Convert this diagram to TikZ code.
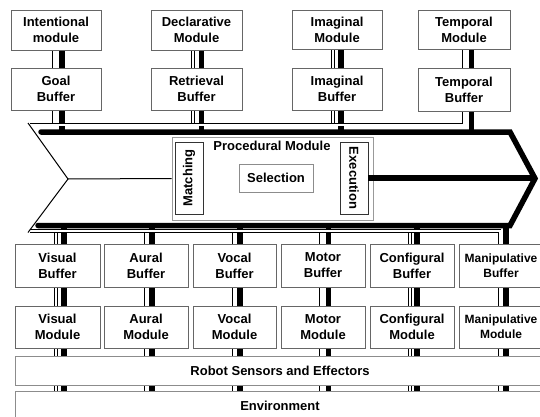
\documentclass[tikz,border=0pt]{standalone}
\usepackage{fontspec}
\setmainfont{Liberation Sans}
\usetikzlibrary{backgrounds}
\begin{document}
\begin{tikzpicture}[x=1pt,y=-1pt,
  box/.style={draw=black!60, line width=0.9pt, fill=white, align=center, inner sep=0pt,
    font=\bfseries\fontsize{13}{16}\selectfont},
  small/.style={font=\bfseries\fontsize{12}{15}\selectfont},
  hollow/.style={draw=black, line width=0.85pt, double=white, double distance=2pt},
  heavy/.style={draw=black, line width=5.5pt},
  edge/.style={draw=black, line width=1pt},
]
\useasboundingbox (0,0) rectangle (540,417);
\clip (0,0) rectangle (540,417);

% upper modules and their buffers
\node[box, minimum width=90pt, minimum height=40pt] (intm) at (56,30) {Intentional\\module};
\node[box, minimum width=91pt, minimum height=40pt] (decm) at (196.5,30) {Declarative\\Module};
\node[box, minimum width=90pt, minimum height=39pt] (imgm) at (337,29.5) {Imaginal\\Module};
\node[box, minimum width=92pt, minimum height=39pt] (tmpm) at (464,29.5) {Temporal\\Module};
\node[box, minimum width=90pt, minimum height=42pt] (goalb) at (56,89) {Goal\\Buffer};
\node[box, minimum width=91pt, minimum height=42pt] (retb) at (196.5,89) {Retrieval\\Buffer};
\node[box, minimum width=90pt, minimum height=42pt] (imgb) at (337,89) {Imaginal\\Buffer};
\node[box, minimum width=92pt, minimum height=43pt] (tmpb) at (464,89.5) {Temporal\\Buffer};

% lower buffers and modules
\node[box, minimum width=85pt, minimum height=43pt] (visb) at (57.5,265.5) {Visual\\Buffer};
\node[box, minimum width=84pt, minimum height=43pt] (aurb) at (146,265.5) {Aural\\Buffer};
\node[box, minimum width=83pt, minimum height=43pt] (vocb) at (234.5,265.5) {Vocal\\Buffer};
\node[box, minimum width=84pt, minimum height=43pt] (motb) at (323,265.5) {Motor\\Buffer};
\node[box, minimum width=84pt, minimum height=43pt] (cfgb) at (412,265.5) {Configural\\Buffer};
\node[box, small, minimum width=84pt, minimum height=43pt] (manb) at (501,265.5) {Manipulative\\Buffer};
\node[box, minimum width=85pt, minimum height=42pt] (vism) at (57.5,327) {Visual\\Module};
\node[box, minimum width=84pt, minimum height=42pt] (aurm) at (146,327) {Aural\\Module};
\node[box, minimum width=83pt, minimum height=42pt] (vocm) at (234.5,327) {Vocal\\Module};
\node[box, minimum width=84pt, minimum height=42pt] (motm) at (323,327) {Motor\\Module};
\node[box, minimum width=84pt, minimum height=42pt] (cfgm) at (412,327) {Configural\\Module};
\node[box, small, minimum width=84pt, minimum height=42pt] (manm) at (501,327) {Manipulative\\Module};

\node[box, draw=black!45, minimum width=530pt, minimum height=29pt] (robot) at (280,370.5) {Robot Sensors and Effectors};
\node[box, draw=black!45, minimum width=530pt, minimum height=30pt] (env) at (280,406) {Environment};

% procedural module
\node[box, draw=black!40, minimum width=201pt, minimum height=83pt] (proc) at (272.5,178.5) {};
\node[font=\bfseries\fontsize{13}{16}\selectfont, inner sep=0pt] (proct) at (272,146) {Procedural Module};
\node[box, draw=black!80, rotate=90, minimum width=72pt, minimum height=28pt] (match) at (189,178) {Matching};
\node[box, draw=black!80, rotate=-90, minimum width=72pt, minimum height=28pt] (exec) at (354,178) {Execution};
\node[box, draw=black!45, minimum width=74pt, minimum height=28pt] (sel) at (276,178) {Selection};

\coordinate (notch) at (68,179);
\coordinate (tip) at (535,178.5);
\draw[heavy] (exec.north) -- (exec.north -| tip);

\begin{pgfonlayer}{background}
  % upper connectors
  \foreach \m/\b/\t/\k in {intm/goalb/53.5/62, decm/retb/193/201.5, imgm/imgb/333/341, tmpm/tmpb/463.5/471.5} {
    \draw[hollow] (\m.south -| \t,0) -- (\b.north -| \t,0);
    \draw[heavy] (\m.south -| \k,0) -- (\b.north -| \k,0);
    \draw[heavy] (\b.south -| \k,0) -- (\k,132);
  }
  \foreach \b/\t in {goalb/53.5, retb/193, imgb/333}
    \draw[hollow] (\b.south -| \t,0) -- (\t,124.5);

  % lower connectors
  \foreach \b/\m/\t/\k in {visb/vism/56/64, aurb/aurm/145.5/152, vocb/vocm/233.5/240,
                           motb/motm/320.5/328.5, cfgb/cfgm/410/417, manb/manm/499.5/506} {
    \draw[heavy] (\k,225.5) -- (\b.north -| \k,0);
    \draw[hollow] (\b.south -| \t,0) -- (\m.north -| \t,0);
    \draw[heavy] (\b.south -| \k,0) -- (\m.north -| \k,0);
    \draw[hollow] (\m.south -| \t,0) -- (robot.north -| \t,0);
    \draw[heavy] (\m.south -| \k,0) -- (robot.north -| \k,0);
    \draw[hollow] (robot.south -| \t,0) -- (env.north -| \t,0);
    \draw[heavy] (robot.south -| \k,0) -- (env.north -| \k,0);
  }
  \foreach \b/\t in {visb/56, aurb/145.5, vocb/233.5, motb/320.5, cfgb/410}
    \draw[hollow] (\t,231) -- (\b.north -| \t,0);

  % outline of the procedural arrow
  \draw[hollow] (tmpb.south -| 463.5,0) -- (463.5,124.5) -- (29.5,124.5);
  \draw[hollow] (29.5,231) -- (499.5,231) -- (manb.north -| 499.5,0);
  \draw[edge] (28,123) -- (notch) -- (28,232.5);
  \draw[edge] (notch) -- (proc.west);
  \draw[heavy, line cap=round, line join=miter] (41,132) -- (510,132) -- (tip) -- (510,225.5) -- (38,225.5);
\end{pgfonlayer}
\end{tikzpicture}
\end{document}
